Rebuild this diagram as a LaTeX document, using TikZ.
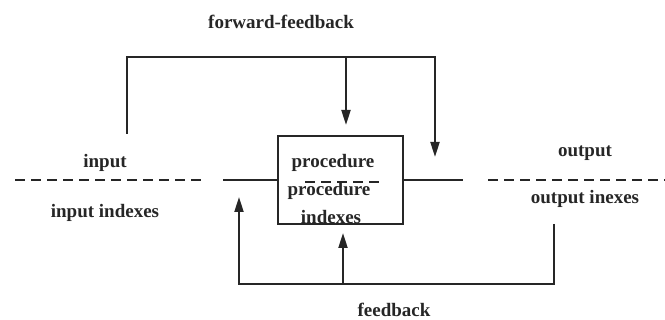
\documentclass[tikz,border=0pt]{standalone}
\usepackage{fontspec}
\setmainfont{Liberation Serif}
\usetikzlibrary{arrows.meta, positioning}

\begin{document}
\begin{tikzpicture}[x=1pt, y=-1pt, ->, >={Triangle[length=15pt, width=9pt]}, line width=2pt, draw=black!85,
		label/.style={inner sep=0pt, text=black!85, font=\fontsize{19}{21}\selectfont\bfseries},
		dash line/.style={-, dash pattern=on 10pt off 6pt}]
	\useasboundingbox (0,0) rectangle (665,320);

	\node[draw, -, minimum width=125pt, minimum height=88pt, inner sep=0pt] (proc) at (340.5,180) {};
	\node[label] (ptop) at (333,163) {procedure};
	\node[label] (pbot) at (329,191) {procedure};
	\node[label] (pidx) at (331,217) {indexes};

	\node[label] (in) at (105,163) {input};
	\node[label] (inidx) at (105,213) {input indexes};
	\node[label] (out) at (585,153) {output};
	\node[label] (outidx) at (585,199) {output inexes};
	\node[label] (ff) at (281,22) {forward-feedback};
	\node[label] (fb) at (394,310) {feedback};

	\coordinate (inL) at (15,180);  \coordinate (inR) at (201,180);
	\coordinate (lnL) at (223,180); \coordinate (lnR) at (463,180);
	\coordinate (outL) at (488,180); \coordinate (outR) at (665,180);
	\coordinate (pdL) at (305,182); \coordinate (pdR) at (384,182);
	\coordinate (ffA) at (127,134); \coordinate (ffB) at (127,57);
	\coordinate (ffC) at (435,57);  \coordinate (ffD) at (435,157);
	\coordinate (ffM) at (346,57);  \coordinate (ffE) at (346,125);
	\coordinate (fbA) at (554,224); \coordinate (fbB) at (554,284);
	\coordinate (fbC) at (239,284); \coordinate (fbD) at (239,197);
	\coordinate (fbM) at (343,284); \coordinate (fbE) at (343,233);

	\draw[dash line] (inL) -- (inR);
	\draw[dash line] (outL) -- (outR);
	\draw[dash line] (pdL) -- (pdR);
	\draw[-] (lnL) -- (proc.west);
	\draw[-] (proc.east) -- (lnR);

	\draw (ffA) -- (ffB) -- (ffC) -- (ffD);
	\draw (ffM) -- (ffE);
	\draw (fbA) -- (fbB) -- (fbC) -- (fbD);
	\draw (fbM) -- (fbE);
\end{tikzpicture}
\end{document}
